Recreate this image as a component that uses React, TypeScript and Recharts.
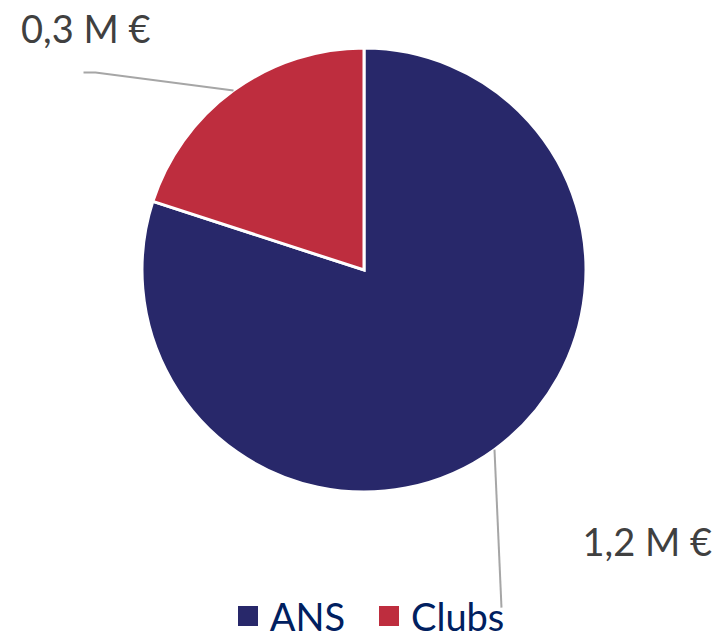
import React from "react";
import { Cell, Legend, Pie, PieChart } from "recharts";

const categories = ["ANS", "Clubs"];
const values = [1.2, 0.3];
const valueLabels = ["1,2 M €", "0,3 M €"];
const colors = ["#28286A", "#BE2D3E"];

const data = categories.map((name, i) => ({ name, value: values[i], label: valueLabels[i] }));

const fontFamily = "Lato, 'Open Sans', sans-serif";
const RAD = Math.PI / 180;

// leader line bends / text placement per slice, relative to the slice's outer midpoint
const labelLayout = [
  { dx: 7, dy: 158, tail: 0, textDx: 88, textDy: 106, anchor: "start" },
  { dx: -138, dy: -18, tail: -12, textDx: -83, textDy: -47, anchor: "end" },
];

const renderLabel = (props: any) => {
  const { cx, cy, midAngle, outerRadius, index, payload } = props;
  const x0 = cx + outerRadius * Math.cos(-midAngle * RAD);
  const y0 = cy + outerRadius * Math.sin(-midAngle * RAD);
  const l = labelLayout[index];
  const x1 = x0 + l.dx;
  const y1 = y0 + l.dy;
  const x2 = x1 + l.tail;
  return (
    <g key={`label-${index}`}>
      <path d={`M${x0},${y0} L${x1},${y1} L${x2},${y1}`} stroke="#A6A6A6" strokeWidth={2} fill="none" />
      <text
        x={x0 + l.textDx}
        y={y0 + l.textDy}
        textAnchor={l.anchor}
        fill="#404040"
        fontSize={38}
        fontFamily={fontFamily}
      >
        {payload.label ?? data[index].label}
      </text>
    </g>
  );
};

const LegendContent = () => (
  <div style={{ display: "flex", justifyContent: "center", alignItems: "center", gap: 34, paddingLeft: 20 }}>
    {categories.map((name, i) => (
      <div key={name} style={{ display: "flex", alignItems: "center", gap: 12 }}>
        <span style={{ width: 20, height: 20, background: colors[i], display: "inline-block" }} />
        <span style={{ color: "#002060", fontSize: 38, fontFamily, lineHeight: "40px" }}>{name}</span>
      </div>
    ))}
  </div>
);

export default function App() {
  return (
    <div style={{ position: "absolute", left: 0, top: 0, width: 722, height: 639, background: "#fff" }}>
      <PieChart width={722} height={639} margin={{ top: 0, right: 0, bottom: 0, left: 0 }}>
        <Pie
          data={data}
          dataKey="value"
          nameKey="name"
          cx={364}
          cy={270}
          outerRadius={222}
          startAngle={90}
          endAngle={-270}
          stroke="#FFFFFF"
          strokeWidth={3}
          label={renderLabel}
          labelLine={false}
          isAnimationActive={false}
        >
          {data.map((entry, i) => (
            <Cell key={entry.name} fill={colors[i]} />
          ))}
        </Pie>
        <Legend
          verticalAlign="bottom"
          content={<LegendContent />}
          wrapperStyle={{ left: 0, width: 722, bottom: 3 }}
        />
      </PieChart>
    </div>
  );
}
